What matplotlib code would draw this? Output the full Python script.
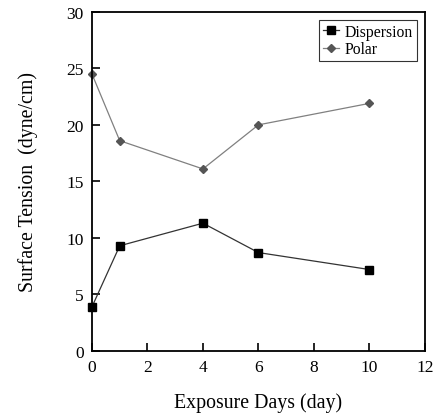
import matplotlib.pyplot as plt

plt.rcParams['font.family'] = ['Liberation Serif', 'DejaVu Serif']

days = [0, 1, 4, 6, 10]
dispersion = [3.9, 9.3, 11.3, 8.7, 7.2]
polar = [24.5, 18.6, 16.1, 20.0, 21.9]

fig = plt.figure(figsize=(4.38, 4.14), dpi=100)
ax = fig.add_axes([0.210, 0.150, 0.760, 0.819])

ax.plot(days, dispersion, color='#333333', lw=0.9, marker='s', ms=5.5,
        mfc='black', mec='black', label='Dispersion', clip_on=False)
ax.plot(days, polar, color='#808080', lw=0.9, marker='D', ms=4.2,
        mfc='#555555', mec='#555555', label='Polar', clip_on=False)

ax.set_xlim(0, 12)
ax.set_ylim(0, 30)
ax.set_xticks([0, 2, 4, 6, 8, 10, 12])
ax.set_yticks([0, 5, 10, 15, 20, 25, 30])
ax.tick_params(direction='in', length=6, width=1.2, labelsize=12.5,
               top=False, right=False, pad=6)
for s in ax.spines.values():
    s.set_linewidth(1.3)

ax.set_xlabel('Exposure Days (day)', fontsize=14.3, labelpad=12)
ax.set_ylabel('Surface Tension  (dyne/cm)', fontsize=14.3, labelpad=20)

leg = ax.legend(loc='upper right', fontsize=11.3, frameon=True, fancybox=False,
                edgecolor='black', handlelength=1.0, handletextpad=0.4,
                borderpad=0.25, labelspacing=0.1, borderaxespad=0.5)
leg.get_frame().set_linewidth(0.8)

fig.savefig('out.png', dpi=100)
